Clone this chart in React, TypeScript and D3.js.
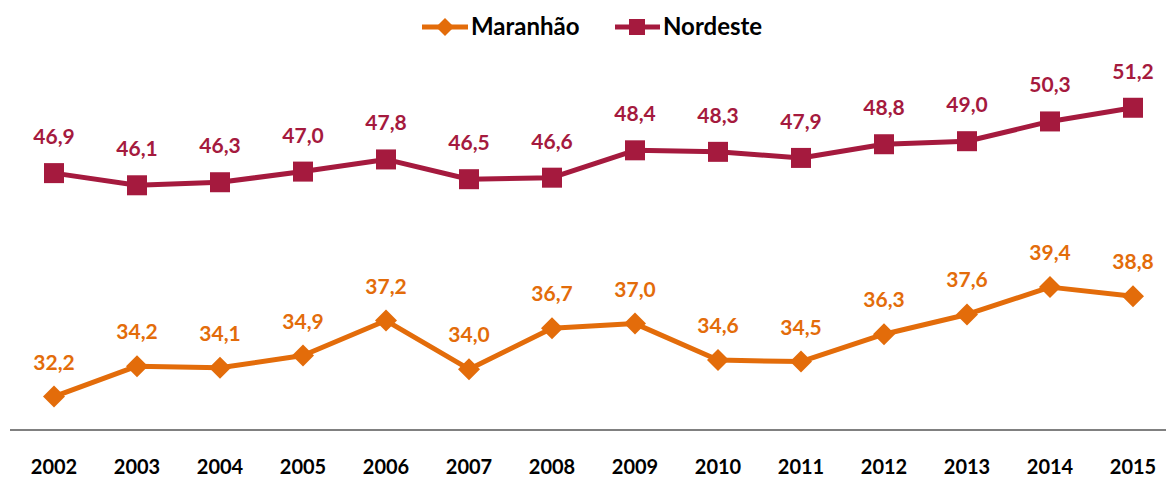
import React from "react";
import * as d3 from "d3";

const years = ["2002","2003","2004","2005","2006","2007","2008","2009","2010","2011","2012","2013","2014","2015"];
const maranhao = [32.2,34.2,34.1,34.9,37.2,34.0,36.7,37.0,34.6,34.5,36.3,37.6,39.4,38.8];
const nordeste = [46.9,46.1,46.3,47.0,47.8,46.5,46.6,48.4,48.3,47.9,48.8,49.0,50.3,51.2];

const W = 1166, H = 477;
const ORANGE = "#E36C0A";
const RED = "#A51A3E";
const FONT = "Lato, 'Open Sans', sans-serif";

export default function App() {
  const x = d3.scalePoint<string>().domain(years).range([54, 1133]);
  const y = d3.scaleLinear().domain([30, 55]).range([430, 50]);
  const line = d3.line<number>().x((_, i) => x(years[i])!).y(v => y(v));
  const fmt = (v: number) => v.toFixed(1).replace(".", ",");
  const diamond = (cx: number, cy: number, r: number) =>
    `M${cx},${cy - r}L${cx + r},${cy}L${cx},${cy + r}L${cx - r},${cy}Z`;

  return (
    <svg width={W} height={H} style={{ position: "absolute", left: 0, top: 0 }}>
      <rect width={W} height={H} fill="#fff" />
      {/* legend */}
      <g>
        <line x1={422} x2={468} y1={27} y2={27} stroke={ORANGE} strokeWidth={5} />
        <path d={diamond(445, 27, 9)} fill={ORANGE} />
        <text x={471} y={35} fontFamily={FONT} fontWeight={700} fontSize={24} fill="#000">Maranhão</text>
        <line x1={615} x2={660} y1={27} y2={27} stroke={RED} strokeWidth={5} />
        <rect x={629} y={19} width={16} height={16} fill={RED} />
        <text x={663} y={35} fontFamily={FONT} fontWeight={700} fontSize={24} fill="#000">Nordeste</text>
      </g>
      {/* axis */}
      <line x1={10} x2={1166} y1={430} y2={430} stroke="#808080" strokeWidth={2} />
      {years.map(yr => (
        <text key={yr} x={x(yr)} y={474} textAnchor="middle" fontFamily={FONT} fontWeight={700} fontSize={20} fill="#000">{yr}</text>
      ))}
      {/* Nordeste */}
      <path d={line(nordeste)!} fill="none" stroke={RED} strokeWidth={5} strokeLinejoin="round" />
      {nordeste.map((v, i) => (
        <g key={i}>
          <rect x={x(years[i])! - 10} y={y(v) - 10} width={20} height={20} fill={RED} />
          <text x={x(years[i])} y={y(v) - 29} textAnchor="middle" fontFamily={FONT} fontWeight={700} fontSize={21} fill={RED}>{fmt(v)}</text>
        </g>
      ))}
      {/* Maranhão */}
      <path d={line(maranhao)!} fill="none" stroke={ORANGE} strokeWidth={5} strokeLinejoin="round" />
      {maranhao.map((v, i) => (
        <g key={i}>
          <path d={diamond(x(years[i])!, y(v), 11)} fill={ORANGE} />
          <text x={x(years[i])} y={y(v) - 27} textAnchor="middle" fontFamily={FONT} fontWeight={700} fontSize={21} fill={ORANGE}>{fmt(v)}</text>
        </g>
      ))}
    </svg>
  );
}
